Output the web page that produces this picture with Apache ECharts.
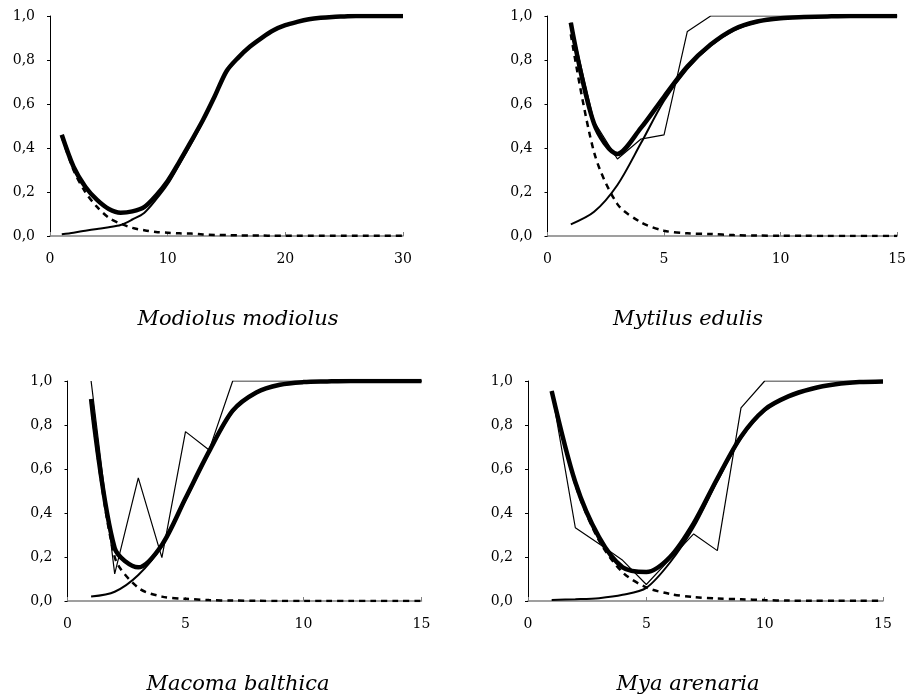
<!DOCTYPE html>
<html><head><meta charset="utf-8">
<script src="https://cdn.jsdelivr.net/npm/echarts@6/dist/echarts.min.js"></script>
<style>html,body{margin:0;padding:0;background:#fff}#c{width:909px;height:696px}</style>
</head><body><div id="c"></div>
<script>
// ---------- data ----------
const titles = ['Modiolus modiolus', 'Mytilus edulis', 'Macoma balthica', 'Mya arenaria'];
const yTickLabels = ['0,0', '0,2', '0,4', '0,6', '0,8', '1,0'];

const x1 = [1,2,3,4,5,6,7,8,9,10,11,12,13,14,15,16,17,18,19,20,21,22,23,24,25,26,27,28,29,30];
const x15 = [1,2,3,4,5,6,7,8,9,10,11,12,13,14,15];

// Modiolus modiolus
const modSum  = [0.46,0.315,0.224,0.164,0.123,0.106,0.112,0.131,0.183,0.25,0.338,0.431,0.527,0.635,0.749,0.811,0.861,0.901,0.935,0.958,0.973,0.985,0.992,0.996,0.998,1,1,1,1,1];
const modRise = [0.008,0.015,0.024,0.032,0.04,0.05,0.075,0.105,0.165,0.235,0.326,0.42,0.52,0.63,0.745,0.808,0.859,0.899,0.934,0.957,0.972,0.984,0.991,0.995,0.997,0.999,1,1,1,1];
const modFall = [0.452,0.3,0.2,0.132,0.083,0.056,0.037,0.026,0.018,0.015,0.012,0.011,0.007,0.005,0.004,0.003,0.002,0.002,0.001,0.001,0.001,0.001,0.001,0.001,0.001,0.001,0.001,0.001,0.001,0.001];

// Mytilus edulis
const mytSum  = [0.97,0.51,0.373,0.49,0.633,0.77,0.87,0.94,0.975,0.99,0.995,0.998,1,1,1];
const mytRise = [0.053,0.11,0.232,0.42,0.615,0.76,0.865,0.935,0.972,0.988,0.994,0.997,0.999,1,1];
const mytFall = [0.917,0.38,0.145,0.063,0.024,0.012,0.009,0.004,0.002,0.001,0.001,0,0,0,0];
const mytObs  = [0.97,0.52,0.35,0.44,0.46,0.93,1,1,1,1,1,1,1,1,1];

// Macoma balthica
const macSum  = [0.918,0.24,0.153,0.255,0.467,0.68,0.865,0.948,0.983,0.995,0.998,1,1,1,1];
const macRise = [0.02,0.042,0.118,0.25,0.46,0.675,0.86,0.945,0.982,0.994,0.998,1,1,1,1];
const macFall = [0.9,0.2,0.06,0.02,0.01,0.004,0.002,0.001,0,0,0,0,0,0,0];
const macObs  = [1,0.123,0.56,0.197,0.77,0.686,1,1,1,1,1,1,1,1,1];

// Mya arenaria
const myaSum  = [0.955,0.54,0.29,0.153,0.132,0.2,0.353,0.557,0.747,0.87,0.93,0.965,0.985,0.995,0.998];
const myaRise = [0.005,0.008,0.013,0.028,0.06,0.175,0.335,0.545,0.74,0.865,0.928,0.964,0.984,0.994,0.998];
const myaFall = [0.95,0.53,0.275,0.13,0.062,0.032,0.018,0.011,0.008,0.004,0.002,0.001,0.001,0.001,0.001];
const myaObs  = [0.955,0.333,0.26,0.185,0.075,0.19,0.305,0.229,0.878,1,1,1,1,1,1];

// ---------- layout ----------
const grids = [
  {left: 50, top: 16, width: 353, height: 220},
  {left: 547.5, top: 16, width: 353.5, height: 220},
  {left: 67.5, top: 381, width: 354, height: 220},
  {left: 528, top: 381, width: 355, height: 220}
];
const xMax = [30, 15, 15, 15];
const xInt = [10, 5, 5, 5];
const titlePos = [[233, 304], [683, 304], [233, 669], [683, 669]];

const panels = [
  {x: x1, sum: modSum, rise: modRise, fall: modFall, obs: null},
  {x: x15, sum: mytSum, rise: mytRise, fall: mytFall, obs: mytObs},
  {x: x15, sum: macSum, rise: macRise, fall: macFall, obs: macObs},
  {x: x15, sum: myaSum, rise: myaRise, fall: myaFall, obs: myaObs}
];

const font = 'DejaVu Serif';
const pair = (xs, ys) => xs.map((v, i) => [v, ys[i]]);

const xAxis = [], yAxis = [], series = [], title = [];
panels.forEach((p, i) => {
  xAxis.push({
    type: 'value', gridIndex: i, min: 0, max: xMax[i], interval: xInt[i],
    splitLine: {show: false},
    axisLine: {show: true, onZero: false, lineStyle: {color: '#808080', width: 1.5}},
    axisTick: {show: true, inside: true, length: 4, lineStyle: {color: '#808080'}},
    axisLabel: {color: '#000', fontFamily: font, fontSize: 14, margin: 16}
  });
  yAxis.push({
    type: 'value', gridIndex: i, min: 0, max: 1, interval: 0.2,
    splitLine: {show: false},
    axisLine: {show: true, lineStyle: {color: '#000', width: 1}},
    axisTick: {show: true, inside: false, length: 3, lineStyle: {color: '#000'}},
    axisLabel: {color: '#000', fontFamily: font, fontSize: 14, margin: 15,
      formatter: v => yTickLabels[Math.round(v / 0.2)]}
  });
  title.push({
    text: titles[i], left: titlePos[i][0], top: titlePos[i][1], textAlign: 'center',
    textStyle: {fontFamily: font, fontStyle: 'italic', fontWeight: 'normal', fontSize: 21, color: '#000'}
  });
  series.push({
    type: 'line', xAxisIndex: i, yAxisIndex: i, data: pair(p.x, p.fall),
    showSymbol: false, smooth: 0.3, z: 2,
    lineStyle: {color: '#000', width: 2.5, type: [6, 5]}
  });
  series.push({
    type: 'line', xAxisIndex: i, yAxisIndex: i, data: pair(p.x, p.rise),
    showSymbol: false, smooth: 0.3, z: 3,
    lineStyle: {color: '#000', width: 2}
  });
  if (p.obs) {
    series.push({
      type: 'line', xAxisIndex: i, yAxisIndex: i, data: pair(p.x, p.obs),
      showSymbol: false, smooth: false, z: 4,
      lineStyle: {color: '#000', width: 1.2}
    });
  }
  series.push({
    type: 'line', xAxisIndex: i, yAxisIndex: i, data: pair(p.x, p.sum),
    showSymbol: false, smooth: 0.3, z: 5,
    lineStyle: {color: '#000', width: 4.5}
  });
});

const chart = echarts.init(document.getElementById('c'), null, {renderer: 'canvas'});
chart.setOption({
  animation: false,
  backgroundColor: '#fff',
  title, grid: grids, xAxis, yAxis, series
});
</script>
</body></html>
